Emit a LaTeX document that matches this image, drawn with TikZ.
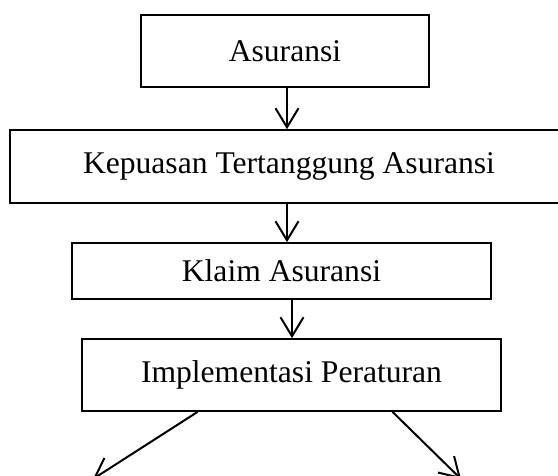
\documentclass[tikz,border=0pt]{standalone}
\usepackage{fontspec}
\setmainfont{Liberation Serif}
\usepackage{tikz}
\usetikzlibrary{arrows.meta, positioning, calc}

\tikzset{
    stepbox/.style={draw, line width=1.6pt, inner sep=0pt, align=center,
        font=\fontsize{31.6}{36}\selectfont},
    flow/.style={-{Straight Barb[length=19pt, width=23pt, line width=2pt]}, line width=2pt}
}

\begin{document}
\begin{tikzpicture}[x=1pt, y=-1pt]
    \useasboundingbox (0,0) rectangle (558,475);

    % Boxes
    \node[stepbox, minimum width=288pt, minimum height=72pt] (asuransi) at (285,51) {Asuransi};
    \node[stepbox, minimum width=558pt, minimum height=73pt] (kepuasan) at (289,166.5) {Kepuasan Tertanggung Asuransi};
    \node[stepbox, minimum width=419pt, minimum height=56pt] (klaim) at (281.5,271) {Klaim Asuransi};
    \node[stepbox, minimum width=419pt, minimum height=72pt] (impl) at (291.5,375) {Implementasi Peraturan};

    % Arrows down
    \draw[flow] (asuransi.south -| 287,0) -- (kepuasan.north -| 287,0);
    \draw[flow] (kepuasan.south -| 287,0) -- (klaim.north -| 287,0);
    \draw[flow] (klaim.south -| 292,0) -- (impl.north -| 292,0);

    % Split arrows
    \coordinate (leftend) at (93,479);
    \coordinate (rightend) at (461,479);
    \draw[flow] ($(impl.south west)!0.277!(impl.south east)$) -- (leftend);
    \draw[flow] ($(impl.south west)!0.74!(impl.south east)$) -- (rightend);
\end{tikzpicture}
\end{document}
